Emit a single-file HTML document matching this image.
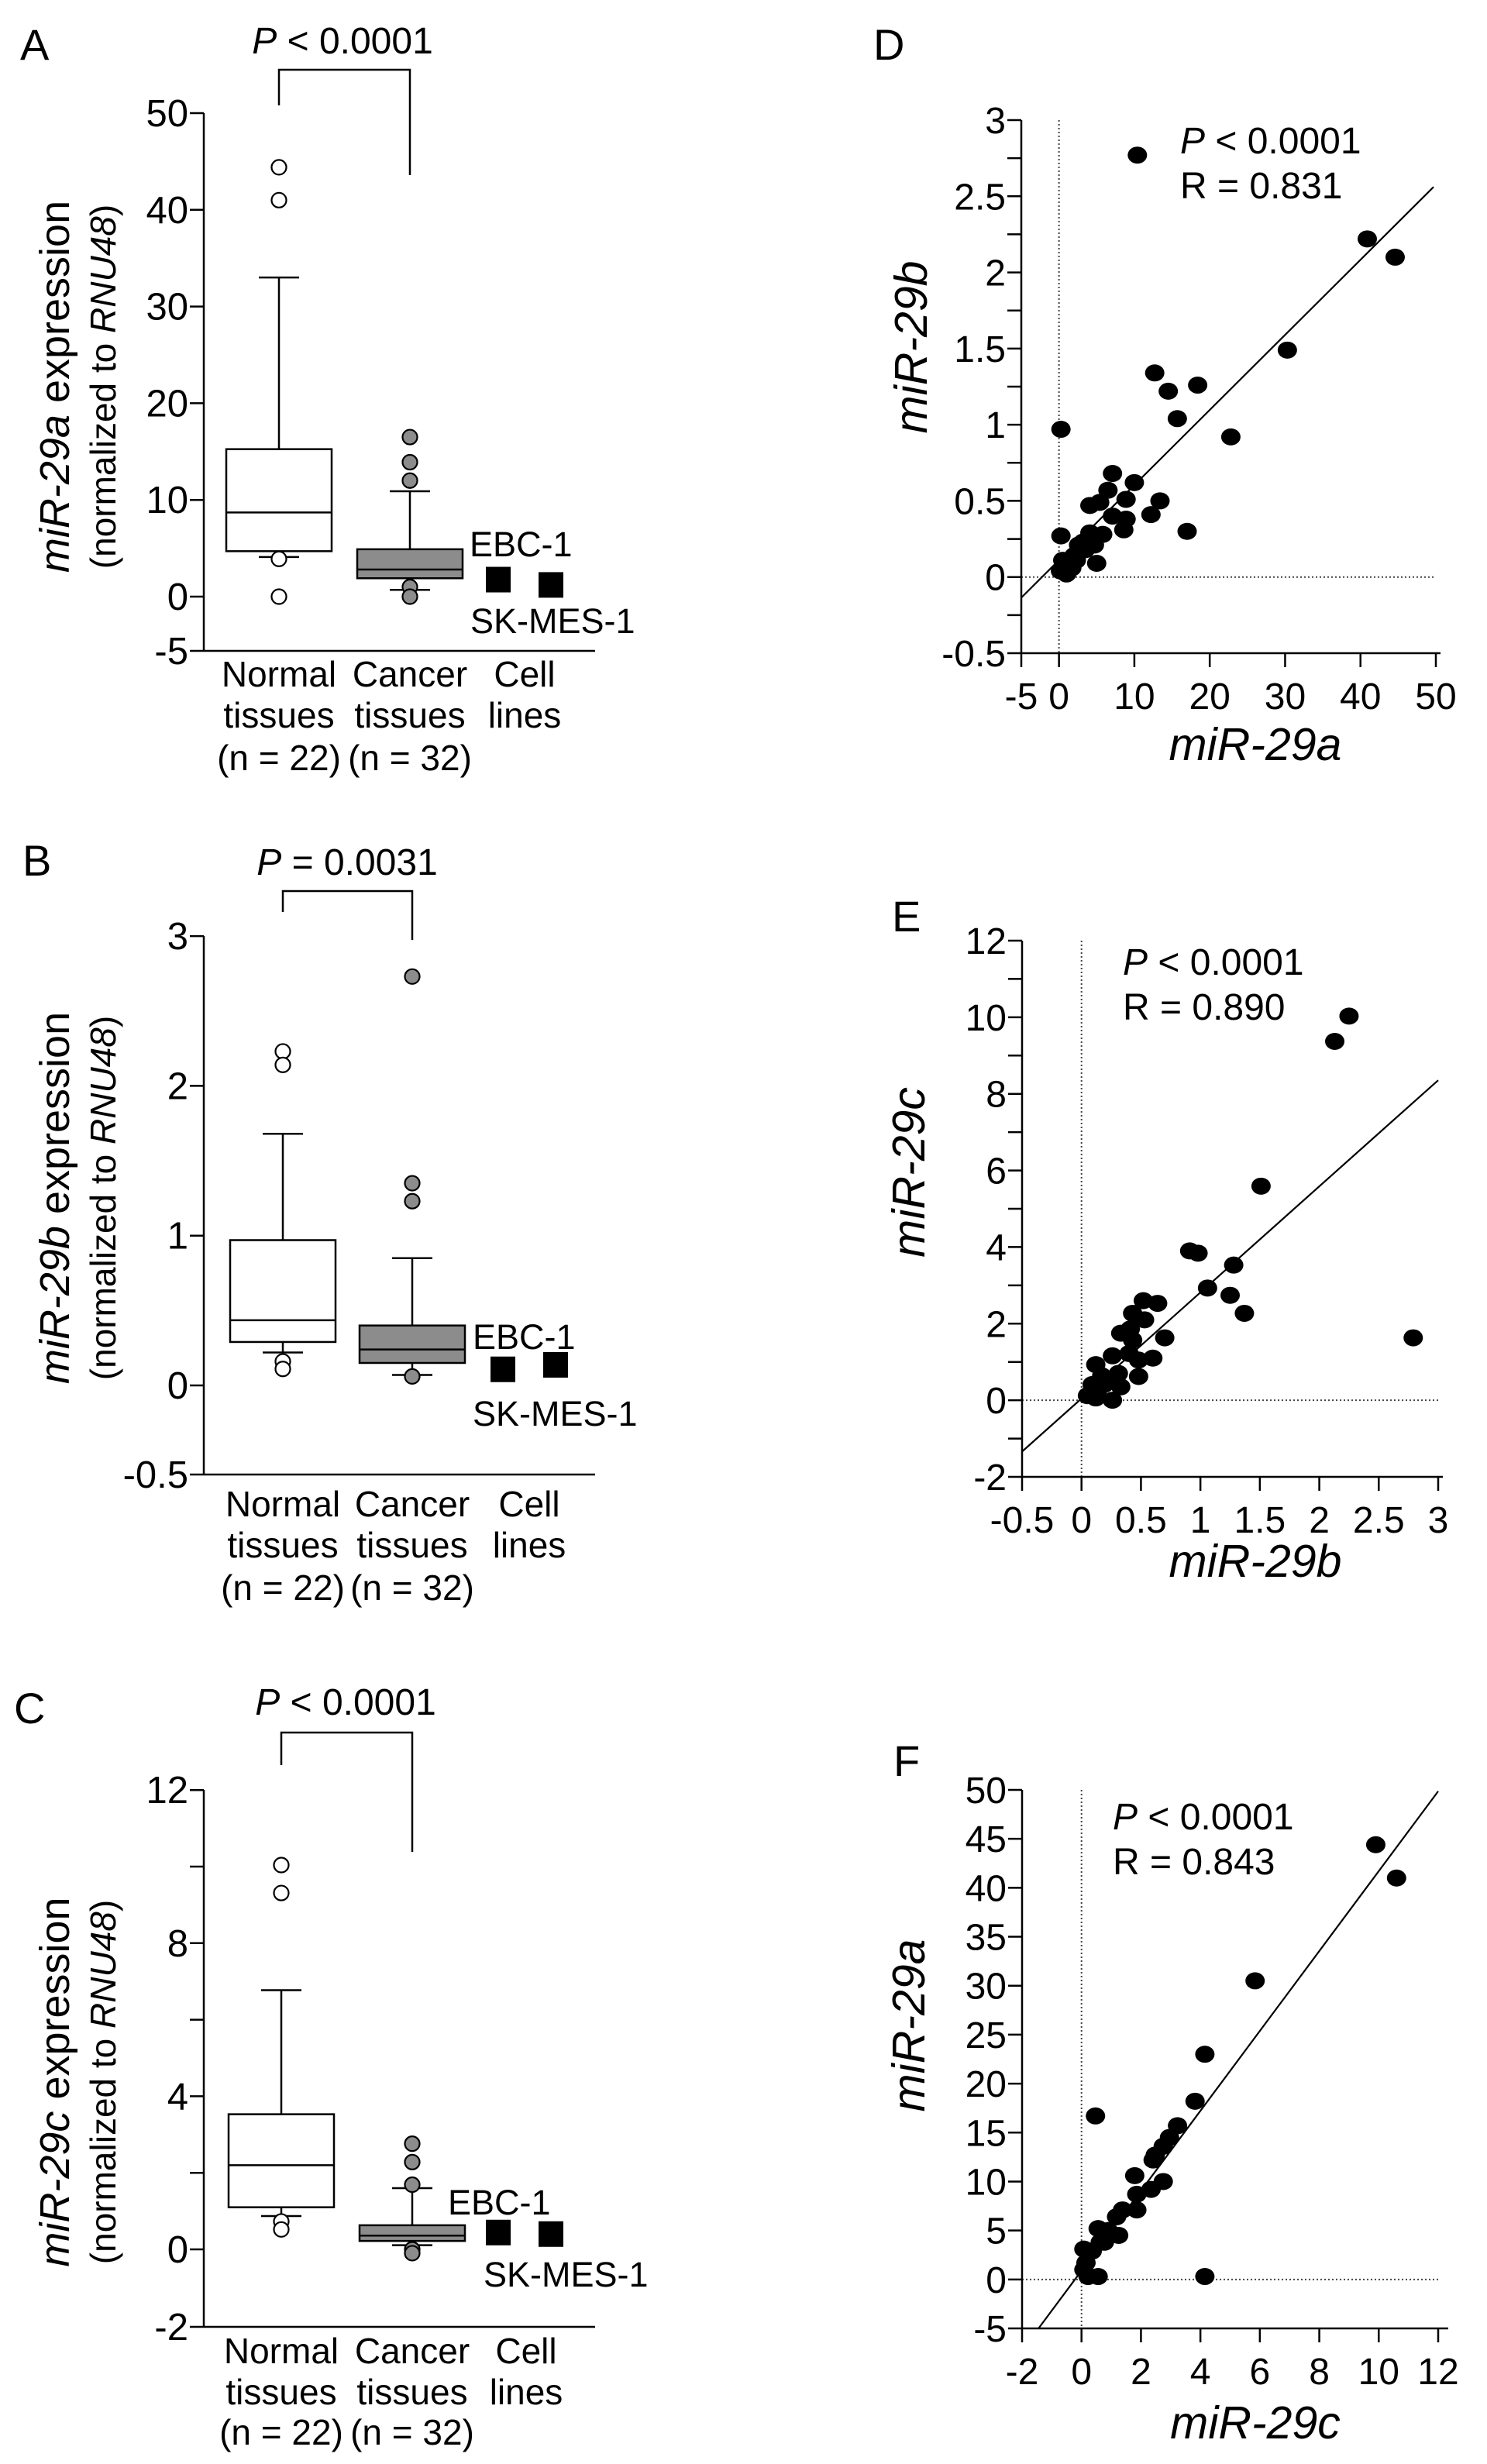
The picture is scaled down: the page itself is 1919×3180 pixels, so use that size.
<!DOCTYPE html>
<html><head><meta charset="utf-8"><style>
html,body{margin:0;padding:0;background:#fff;}
svg{display:block;font-family:"Liberation Sans",Arial,sans-serif;}
</style></head><body>
<svg id="fig" width="1919" height="3180" viewBox="0 0 1919 3180" xmlns="http://www.w3.org/2000/svg">
<rect x="0" y="0" width="1919" height="3180" fill="#fff"/>
</svg>
<script>
// ---------- Box panel data: [q1, median, q3, lowWhisker, highWhisker] ----------
const boxNormalA = [4.7, 8.7, 15.25, 4.1, 33];
const boxCancerA = [1.9, 2.8, 4.9, 0.7, 10.9];
const outNormalA = [44.4, 41, 3.9, 0];
const outCancerA = [16.5, 13.9, 12, 1.0, 0];
const cellsA = [1.8, 1.25];
const ticksA = [50, 40, 30, 20, 10, 0, -5];

const boxNormalB = [0.29, 0.435, 0.97, 0.22, 1.68];
const boxCancerB = [0.15, 0.24, 0.40, 0.07, 0.85];
const outNormalB = [2.23, 2.14, 0.16, 0.11];
const outCancerB = [2.73, 1.35, 1.23, 0.06];
const cellsB = [0.11, 0.14];
const ticksB = [3, 2, 1, 0, -0.5];

const boxNormalC = [1.1, 2.2, 3.53, 0.87, 6.77];
const boxCancerC = [0.22, 0.36, 0.63, 0.11, 1.6];
const outNormalC = [10.04, 9.31, 0.73, 0.52];
const outCancerC = [2.76, 2.28, 1.69, 0, -0.1];
const cellsC = [0.45, 0.41];
const ticksC = [12, 8, 4, 0, -2];
const minorC = [10, 6, 2];

const categoryLines = [["Normal","tissues","(n = 22)"],["Cancer","tissues","(n = 32)"],["Cell","lines",""]];

// ---------- Scatter data ----------
const dX = [10.4,40.9,44.6,30.3,12.7,14.5,18.4,15.7,22.8,0.26,7.1,10,6.5,8.9,13.4,12.2,17,8.9,8.6,7.1,4.1,5.4,5.8,4.1,0.26,5,4.7,3.5,2.6,2,1.1,0.5,0.2,1,1.7,2.3,3.2];
const dY = [2.77,2.22,2.10,1.49,1.34,1.22,1.26,1.04,0.92,0.97,0.68,0.62,0.57,0.51,0.50,0.41,0.30,0.38,0.31,0.40,0.47,0.49,0.28,0.29,0.27,0.09,0.21,0.18,0.21,0.14,0.09,0.11,0.04,0.02,0.06,0.11,0.23];
const dLine = [0.111, 0.0493]; // intercept, slope
const dXTicks = [-5,0,10,20,30,40,50];
const dYTicks = [3,2.5,2,1.5,1,0.5,0,-0.5];
const dYMinor = [2.75,2.25,1.75,1.25,0.75,0.25,-0.25];

const eX = [2.25,2.13,1.51,0.91,0.98,1.28,1.06,1.25,1.37,2.79,0.70,0.64,0.52,0.43,0.53,0.41,0.33,0.43,0.60,0.48,0.48,0.40,0.26,0.12,0.31,0.23,0.33,0.26,0.14,0.05,0.12,0.19,0.17,0.09];
const eY = [10.03,9.37,5.59,3.9,3.84,3.53,2.93,2.74,2.27,1.63,1.63,2.53,2.6,2.27,2.1,1.86,1.75,1.57,1.1,1.05,0.62,1.22,1.16,0.93,0.70,0.52,0.35,0,0.29,0.12,0.06,0.41,0.64,0.41];
const eLine = [0.045, 2.77];
const eXTicks = [-0.5,0,0.5,1,1.5,2,2.5,3];
const eYTicks = [12,10,8,6,4,2,0,-2];
const eYMinor = [11,9,7,5,3,1,-1];

const fX = [9.9,10.6,5.84,4.15,3.82,0.47,3.23,2.96,2.75,2.48,2.41,2.75,1.79,2.34,1.86,1.86,1.38,1.18,1.25,0.9,0.56,0.63,0.36,0.08,0.15,0.08,0.22,0.56,4.15,0.77];
const fY = [44.4,41,30.5,23,18.2,16.7,15.7,14.5,13.6,12.7,12.2,10,10.6,9.2,8.7,7.1,7.1,6.4,4.5,5,5.2,3.8,2.9,3.1,1.7,1,0.3,0.3,0.3,3.8];
const fLine = [0.9, 4.08];
const fXTicks = [-2,0,2,4,6,8,10,12];
const fYTicks = [50,45,40,35,30,25,20,15,10,5,0,-5];

// ---------- helpers ----------
const NS='http://www.w3.org/2000/svg';
const svg=document.getElementById('fig');
function mk(tag, attrs, text){const e=document.createElementNS(NS,tag);for(const k in attrs)e.setAttribute(k,attrs[k]);if(text!==undefined)e.textContent=text;svg.appendChild(e);return e;}
function ts(parent, txt, italic){const t=document.createElementNS(NS,'tspan');if(italic)t.setAttribute('font-style','italic');t.textContent=txt;parent.appendChild(t);return t;}

function boxPanel(p, bN, bC, oN, oC, cells, ticks, minor){
  const Y = v => p.y0 - v*p.ppu;
  let e;
  e = mk('text',{x:p.letterX,y:p.letterY,'font-size':56},p.letter);
  
  
  e = mk('line',{x1:p.ax,y1:p.top,x2:p.ax,y2:p.bottom,stroke:'#000','stroke-width':2.5});
  
  
  e = mk('line',{x1:p.ax,y1:p.bottom,x2:p.xEnd,y2:p.bottom,stroke:'#000','stroke-width':2.5});
  
  
  ticks.forEach(t=>{
    const y = (t===ticks[ticks.length-1]) ? p.bottom : Y(t);
    e = mk('line',{x1:p.ax-18,y1:y,x2:p.ax,y2:y,stroke:'#000','stroke-width':2.5});
    
    
    e = mk('text',{x:p.ax-20,y:y+17,'font-size':49,'text-anchor':'end'},String(t));
    
    
  });
  (minor||[]).forEach(t=>{
    e = mk('line',{x1:p.ax-18,y1:Y(t),x2:p.ax,y2:Y(t),stroke:'#000','stroke-width':2.5});
    
    
  });
  e = mk('text',{transform:`translate(${p.titleX},${p.titleY}) rotate(-90)`,'font-size':54,'text-anchor':'middle'});
  
  
  ts(e,p.mir,true); ts(e,' expression',false);
  e = mk('text',{transform:`translate(${p.titleX+60},${p.titleY}) rotate(-90)`,'font-size':46,'text-anchor':'middle'});
  
  
  ts(e,'(normalized to ',false); ts(e,'RNU48',true); ts(e,')',false);
  const groups=[[bN,p.xN,'#fff',oN,'normal'],[bC,p.xC,'#8c8c8c',oC,'cancer']];
  groups.forEach(g=>{
    const [s,cx,fill,outs,nm]=g;
    const hw=68;
    e = mk('line',{x1:cx,y1:Y(s[2]),x2:cx,y2:Y(s[4]),stroke:'#000','stroke-width':2.5});
    
    
    e = mk('line',{x1:cx-26,y1:Y(s[4]),x2:cx+26,y2:Y(s[4]),stroke:'#000','stroke-width':2.5});
    
    
    e = mk('line',{x1:cx,y1:Y(s[0]),x2:cx,y2:Y(s[3]),stroke:'#000','stroke-width':2.5});
    
    
    e = mk('line',{x1:cx-26,y1:Y(s[3]),x2:cx+26,y2:Y(s[3]),stroke:'#000','stroke-width':2.5});
    
    
    e = mk('rect',{x:cx-hw,y:Y(s[2]),width:2*hw,height:Y(s[0])-Y(s[2]),fill:fill,stroke:'#000','stroke-width':2.5});
    
    
    e = mk('line',{x1:cx-hw,y1:Y(s[1]),x2:cx+hw,y2:Y(s[1]),stroke:'#000','stroke-width':2.5});
    
    
    outs.forEach(v=>{
      e = mk('circle',{cx:cx,cy:Y(v),r:9.5,fill:fill,stroke:'#000','stroke-width':2.2});
      
      
    });
  });
  cells.forEach((v,i)=>{
    const cx=p.cellX[i];
    e = mk('rect',{x:cx-16,y:Y(v)-16,width:32,height:33,fill:'#000'});
    
    
  });
  e = mk('text',{x:p.ebc[0],y:p.ebc[1],'font-size':45},'EBC-1');
  
  
  e = mk('text',{x:p.sk[0],y:p.sk[1],'font-size':45},'SK-MES-1');
  
  
  categoryLines.forEach((lines,i)=>{
    lines.forEach((ln,j)=>{
      if(!ln) return;
      e = mk('text',{x:p.catX[i],y:p.catY[j],'font-size':46,'text-anchor':'middle'},ln);
      
      
    });
  });
  e = mk('polyline',{points:`${p.xN},${p.br[1]} ${p.xN},${p.br[0]} ${p.xC},${p.br[0]} ${p.xC},${p.br[2]}`,fill:'none',stroke:'#000','stroke-width':2.5});
  
  
  e = mk('text',{x:p.pX,y:p.pY,'font-size':48,'text-anchor':'middle'});
  
  
  ts(e,'P',true); ts(e,p.pText,false);
}

boxPanel({letter:'A',letterX:26,letterY:77,ax:263,top:146,bottom:840,xEnd:768,y0:770,ppu:12.48,xN:360,xC:529,
  cellX:[643,711],ebc:[606,718],sk:[607,817],catX:[360,529,677],catY:[886,939,994],br:[90,136,226],
  pX:442,pY:69,pText:' < 0.0001',mir:'miR-29a',titleX:89,titleY:499},
  boxNormalA,boxCancerA,outNormalA,outCancerA,cellsA,ticksA,null);
boxPanel({letter:'B',letterX:29,letterY:1130,ax:263,top:1208,bottom:1903,xEnd:768,y0:1788,ppu:193.3,xN:365,xC:532,
  cellX:[649,717],ebc:[610,1741],sk:[610,1840],catX:[365,532,683],catY:[1957,2010,2065],br:[1150,1177,1213],
  pX:448,pY:1129,pText:' = 0.0031',mir:'miR-29b',titleX:89,titleY:1546},
  boxNormalB,boxCancerB,outNormalB,outCancerB,cellsB,ticksB,null);
boxPanel({letter:'C',letterX:18,letterY:2224,ax:263,top:2310,bottom:3003,xEnd:768,y0:2903,ppu:49.4,xN:363,xC:532,
  cellX:[643,711],ebc:[578,2858],sk:[624,2951],catX:[363,532,679],catY:[3050,3103,3155],br:[2236,2278,2390],
  pX:446,pY:2213,pText:' < 0.0001',mir:'miR-29c',titleX:89,titleY:2687},
  boxNormalC,boxCancerC,outNormalC,outCancerC,cellsC,ticksC,minorC);

function scatterPanel(p, xs, ys, line, xt, yt, ym){
  const X = v => p.xPx0 + (v-p.xMin)/(p.xMax-p.xMin)*(p.xPx1-p.xPx0);
  const Y = v => p.yPx0 - (v-p.yMin)/(p.yMax-p.yMin)*(p.yPx0-p.yPx1);
  let e;
  e = mk('text',{x:p.letterX,y:p.letterY,'font-size':56},p.letter);
  
  
  e = mk('line',{x1:X(0),y1:Y(p.yMax),x2:X(0),y2:p.yPx0,stroke:'#444','stroke-width':2,'stroke-dasharray':'2,3'});
  
  
  e = mk('line',{x1:p.xPx0,y1:Y(0),x2:X(p.xMax),y2:Y(0),stroke:'#444','stroke-width':2,'stroke-dasharray':'2,3'});
  
  
  e = mk('line',{x1:p.xPx0,y1:Y(p.yMax),x2:p.xPx0,y2:p.yPx0,stroke:'#000','stroke-width':2.5});
  
  
  e = mk('line',{x1:p.xPx0,y1:p.yPx0,x2:p.xEnd,y2:p.yPx0,stroke:'#000','stroke-width':2.5});
  
  
  xt.forEach(t=>{
    e = mk('line',{x1:X(t),y1:p.yPx0,x2:X(t),y2:p.yPx0+18,stroke:'#000','stroke-width':2.5});
    
    
    e = mk('text',{x:X(t),y:p.yPx0+72,'font-size':48,'text-anchor':'middle'},String(t));
    
    
  });
  yt.forEach(t=>{
    e = mk('line',{x1:p.xPx0-18,y1:Y(t),x2:p.xPx0,y2:Y(t),stroke:'#000','stroke-width':2.5});
    
    
    e = mk('text',{x:p.xPx0-20,y:Y(t)+17,'font-size':48,'text-anchor':'end'},String(t));
    
    
  });
  (ym||[]).forEach(t=>{
    e = mk('line',{x1:p.xPx0-18,y1:Y(t),x2:p.xPx0,y2:Y(t),stroke:'#000','stroke-width':2.5});
    
    
  });
  const lx0 = Math.max(p.xMin, (p.yMin-line[0])/line[1]);
  e = mk('line',{x1:X(lx0),y1:Y(line[0]+line[1]*lx0),x2:X(p.lineEnd),y2:Y(line[0]+line[1]*p.lineEnd),stroke:'#000','stroke-width':2.2});
  
  
  xs.forEach((v,i)=>{
    e = mk('ellipse',{cx:X(v),cy:Y(ys[i]),rx:12.5,ry:11,fill:'#000'});
    
    
  });
  e = mk('text',{x:p.statX,y:p.statY,'font-size':48});
  
  
  ts(e,'P',true); ts(e,' < 0.0001',false);
  e = mk('text',{x:p.statX,y:p.statY+58,'font-size':48},p.rText);
  
  
  e = mk('text',{x:1620,y:p.xTitleY,'font-size':59,'font-style':'italic','text-anchor':'middle'},p.xTitle);
  
  
  e = mk('text',{transform:`translate(${p.yTitleX},${p.yTitleY}) rotate(-90)`,'font-size':59,'font-style':'italic','text-anchor':'middle'},p.yTitle);
  
  
}

scatterPanel({letter:'D',letterX:1127,letterY:77,xMin:-5,xMax:50,xPx0:1318,xPx1:1853,yMin:-0.5,yMax:3,yPx0:843,yPx1:155,
  xEnd:1859,lineEnd:49.7,statX:1523,statY:198,rText:'R = 0.831',xTitle:'miR-29a',xTitleY:981,yTitle:'miR-29b',yTitleX:1196,yTitleY:448},
  dX,dY,dLine,dXTicks,dYTicks,dYMinor);
scatterPanel({letter:'E',letterX:1151,letterY:1202,xMin:-0.5,xMax:3,xPx0:1319,xPx1:1856,yMin:-2,yMax:12,yPx0:1906,yPx1:1214,
  xEnd:1862,lineEnd:3,statX:1449,statY:1258,rText:'R = 0.890',xTitle:'miR-29b',xTitleY:2035,yTitle:'miR-29c',yTitleX:1193,yTitleY:1513},
  eX,eY,eLine,eXTicks,eYTicks,eYMinor);
scatterPanel({letter:'F',letterX:1153,letterY:2292,xMin:-2,xMax:12,xPx0:1319,xPx1:1856,yMin:-5,yMax:50,yPx0:3005,yPx1:2310,
  xEnd:1869,lineEnd:12,statX:1436,statY:2361,rText:'R = 0.843',xTitle:'miR-29c',xTitleY:3147,yTitle:'miR-29a',yTitleX:1193,yTitleY:2614},
  fX,fY,fLine,fXTicks,fYTicks,null);
</script>
</body></html>
